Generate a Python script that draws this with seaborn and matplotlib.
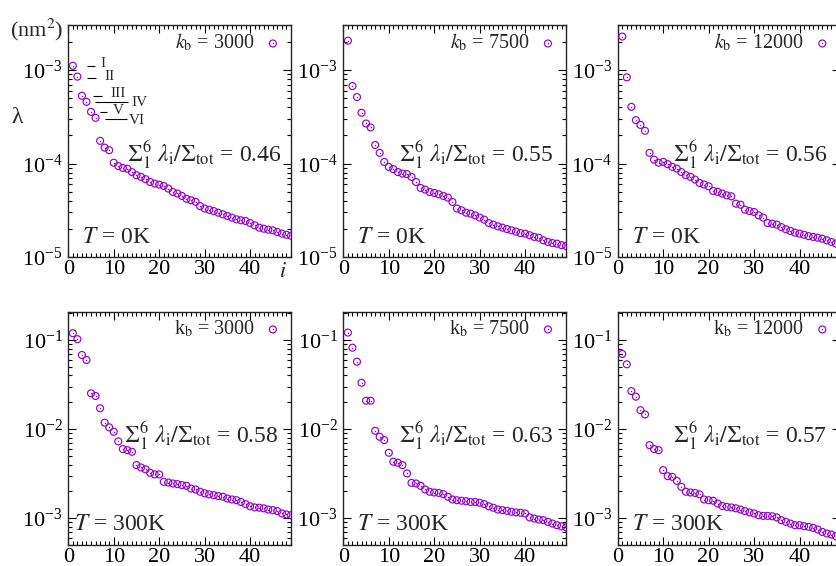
import numpy as np
import matplotlib
matplotlib.use("Agg")
import matplotlib.pyplot as plt
from matplotlib.ticker import MultipleLocator, NullFormatter, LogLocator
from matplotlib.legend_handler import HandlerTuple
import seaborn as sns

sns.set_theme(style="ticks")
plt.rcParams["font.family"] = ["Liberation Serif", "DejaVu Serif"]
plt.rcParams["mathtext.fontset"] = "stix"
plt.rcParams["axes.linewidth"] = 1.0

PURPLE = "#9400d3"

# eigenvalue index
idx = np.arange(1, 50)

# T = 0K
lam_0K_3000 = [1.11e-3, 8.5e-4, 5.3e-4, 4.57e-4, 3.57e-4, 3.08e-4, 1.75e-4, 1.48e-4, 1.39e-4, 1.02e-4,
               9.4e-5, 8.97e-5, 8.8e-5, 8.1e-5, 7.5e-5, 7.2e-5, 6.8e-5, 6.35e-5, 6.1e-5, 5.95e-5,
               5.75e-5, 5.4e-5, 4.96e-5, 4.78e-5, 4.5e-5, 4.2e-5, 4.05e-5, 3.9e-5, 3.5e-5, 3.3e-5,
               3.2e-5, 3.1e-5, 2.98e-5, 2.86e-5, 2.75e-5, 2.64e-5, 2.53e-5, 2.47e-5, 2.43e-5, 2.31e-5,
               2.18e-5, 2.06e-5, 2.01e-5, 1.96e-5, 1.93e-5, 1.85e-5, 1.78e-5, 1.73e-5, 1.69e-5]
lam_0K_7500 = [2.06e-3, 6.74e-4, 5.14e-4, 3.49e-4, 2.68e-4, 2.43e-4, 1.58e-4, 1.30e-4, 1.04e-4, 9.2e-5,
               8.7e-5, 8.1e-5, 7.8e-5, 7.7e-5, 7.2e-5, 6.35e-5, 5.48e-5, 5.26e-5, 4.96e-5, 4.84e-5,
               4.69e-5, 4.5e-5, 4.32e-5, 3.88e-5, 3.3e-5, 3.16e-5, 2.98e-5, 2.91e-5, 2.79e-5, 2.64e-5,
               2.51e-5, 2.31e-5, 2.22e-5, 2.13e-5, 2.06e-5, 1.99e-5, 1.93e-5, 1.87e-5, 1.80e-5, 1.78e-5,
               1.71e-5, 1.64e-5, 1.61e-5, 1.51e-5, 1.45e-5, 1.41e-5, 1.39e-5, 1.34e-5, 1.31e-5]
lam_0K_12000 = [2.28e-3, 8.35e-4, 4.04e-4, 2.91e-4, 2.59e-4, 2.24e-4, 1.30e-4, 1.10e-4, 1.02e-4, 1.04e-4,
                9.84e-5, 9.2e-5, 8.83e-5, 8.1e-5, 7.5e-5, 7.2e-5, 6.74e-5, 6.2e-5, 5.96e-5, 5.71e-5,
                5.09e-5, 4.97e-5, 4.77e-5, 4.57e-5, 4.46e-5, 3.72e-5, 3.63e-5, 3.21e-5, 3.1e-5, 3.03e-5,
                2.79e-5, 2.64e-5, 2.31e-5, 2.27e-5, 2.22e-5, 2.09e-5, 1.98e-5, 1.90e-5, 1.82e-5, 1.78e-5,
                1.73e-5, 1.67e-5, 1.64e-5, 1.61e-5, 1.57e-5, 1.51e-5, 1.45e-5, 1.39e-5, 1.36e-5]

# T = 300K
lam_300K_3000 = [0.119, 0.102, 0.0678, 0.0596, 0.0252, 0.0235, 0.0171, 0.0118, 0.01045, 0.00933,
                 0.00727, 0.00596, 0.0058, 0.00556, 0.00394, 0.00371, 0.00353, 0.00323, 0.0031, 0.0031,
                 0.00256, 0.00251, 0.00245, 0.00241, 0.00235, 0.00231, 0.00215, 0.0021, 0.00198, 0.0019,
                 0.00185, 0.00181, 0.00177, 0.00174, 0.00166, 0.00162, 0.00159, 0.00152, 0.00144, 0.00136,
                 0.00132, 0.00131, 0.00129, 0.00125, 0.00123, 0.0012, 0.00113, 0.0011, 0.00108]
lam_300K_7500 = [0.121, 0.0819, 0.057, 0.0331, 0.0208, 0.0208, 0.00957, 0.0082, 0.00752, 0.00542,
                 0.0043, 0.00419, 0.00394, 0.00318, 0.00249, 0.00245, 0.00231, 0.0021, 0.00198, 0.00194,
                 0.00192, 0.00186, 0.00174, 0.00162, 0.00159, 0.00157, 0.00155, 0.00152, 0.00152, 0.00149,
                 0.00144, 0.00136, 0.00131, 0.00125, 0.00123, 0.00121, 0.00118, 0.00116, 0.00115, 0.00113,
                 0.00102, 0.00099, 0.000966, 0.00095, 0.00091, 0.00087, 0.000834, 0.00081, 0.00079]
lam_300K_12000 = [0.0696, 0.0533, 0.0267, 0.0231, 0.0163, 0.0146, 0.0066, 0.00596, 0.0058, 0.00346,
                  0.00296, 0.00291, 0.00262, 0.00225, 0.00198, 0.00194, 0.00192, 0.00185, 0.00162, 0.00159,
                  0.00157, 0.00146, 0.00137, 0.00134, 0.00132, 0.00129, 0.00125, 0.0012, 0.00116, 0.00113,
                  0.00108, 0.00106, 0.00106, 0.00105, 0.00102, 0.00095, 0.00091, 0.00087, 0.000834, 0.000834,
                  0.000813, 0.0008, 0.000778, 0.000746, 0.000701, 0.000673, 0.000655, 0.000628, 0.00062]

series = [lam_0K_3000, lam_0K_7500, lam_0K_12000, lam_300K_3000, lam_300K_7500, lam_300K_12000]
kb_labels = [r"$k_{\rm b}$ = 3000", r"$k_{\rm b}$ = 7500", r"$k_{\rm b}$ = 12000",
             r"k$_{\rm b}$ = 3000", r"k$_{\rm b}$ = 7500", r"k$_{\rm b}$ = 12000"]
ratios = ["0.46", "0.55", "0.56", "0.58", "0.63", "0.57"]
temps = [r"$T$ = 0K", r"$T$ = 0K", r"$T$ = 0K", r"$T$ = 300K", r"$T$ = 300K", r"$T$ = 300K"]
ylims = [(1e-5, 3.03e-3)] * 3 + [(5e-4, 0.206)] * 3

fig = plt.figure(figsize=(8.36, 5.66), dpi=100)
lefts = [0.0817, 0.4107, 0.7389]
bottoms = [0.5459, 0.0371]
heights = [0.4099, 0.4117]
W = 0.2664

for k in range(6):
    r, c = divmod(k, 3)
    ax = fig.add_axes([lefts[c], bottoms[r], W, heights[r]])
    ax.set_yscale("log")
    sns.scatterplot(x=idx, y=series[k], ax=ax, marker="o", s=25, facecolor="none",
                    edgecolor=PURPLE, linewidth=0.85, legend=False, zorder=3)
    ring = ax.collections[-1]
    sns.scatterplot(x=idx, y=series[k], ax=ax, marker="o", s=1.0, color=PURPLE,
                    linewidth=0, legend=False, zorder=3)
    dot = ax.collections[-1]
    ax.set_xlim(0, 49)
    ax.set_ylim(*ylims[k])
    ax.xaxis.set_major_locator(MultipleLocator(10))
    ax.xaxis.set_minor_locator(MultipleLocator(1))
    ax.yaxis.set_minor_locator(LogLocator(base=10, subs=np.arange(2, 10)))
    ax.yaxis.set_minor_formatter(NullFormatter())
    ax.tick_params(which="both", direction="in", top=True, right=True, width=0.8,
                   labelsize=16, colors="black")
    ax.tick_params(axis="y", pad=4)
    ax.tick_params(axis="x", pad=2)
    ax.tick_params(which="major", length=5.5)
    ax.tick_params(which="minor", length=2.8)
    ax.set_xlabel("")
    ax.set_ylabel("")

    ax.legend([(ring, dot)], [kb_labels[k]], handler_map={tuple: HandlerTuple(ndivide=1)},
              loc="upper right", bbox_to_anchor=(1.0, 1.0), markerfirst=False, frameon=False,
              fontsize=14.5, handlelength=1.1, handletextpad=0.35, borderaxespad=0.0,
              borderpad=0.35)

    sx = 0.263 if k == 0 else 0.25
    sy = 0.41 if r == 0 else 0.442
    ax.text(sx, sy, r"$\Sigma_1^6\ \lambda_{\rm i}/\Sigma_{\rm tot}$ = " + ratios[k],
            transform=ax.transAxes, fontsize=17, va="baseline", ha="left")
    tx = 0.024 if k == 3 else 0.063
    ty = 0.06 if r == 0 else 0.064
    ax.text(tx, ty, temps[k], transform=ax.transAxes, fontsize=17, va="baseline", ha="left")

    if k == 0:
        # mode labels I..VI with short leader lines
        leaders = [(0.084, 0.121, 0.825), (0.084, 0.125, 0.773), (0.113, 0.150, 0.695),
                   (0.120, 0.269, 0.669), (0.142, 0.175, 0.623), (0.165, 0.262, 0.595)]
        for x0, x1, y0 in leaders:
            ax.plot([x0, x1], [y0, y0], transform=ax.transAxes, color="black", lw=0.8,
                    solid_capstyle="butt")
        names = [("I", 0.145, 0.832), ("II", 0.160, 0.78), ("III", 0.188, 0.705),
                 ("IV", 0.285, 0.666), ("V", 0.200, 0.632), ("VI", 0.270, 0.588)]
        for s, x0, y0 in names:
            ax.text(x0, y0, s, transform=ax.transAxes, fontsize=11, va="center", ha="left")

fig.text(0.0443, 0.947, r"(nm$^2$)", fontsize=16, ha="center", va="center")
fig.text(0.0203, 0.793, "λ", fontsize=17, ha="center", va="center")
fig.text(0.3385, 0.5177, r"$i$", fontsize=16, ha="center", va="center")

fig.savefig("out.png", dpi=100)
